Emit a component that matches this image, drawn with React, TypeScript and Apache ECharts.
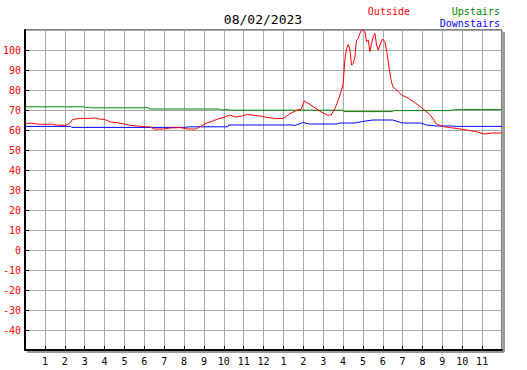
import React, { useEffect, useRef } from "react";
import * as echarts from "echarts";

const titleText = "08/02/2023";
const seriesNames = ["Outside", "Upstairs", "Downstairs"];
const seriesColors = ["#ff0000", "#008800", "#0000ff"];

const outsideHours = [0, 0.3, 0.6, 1.0, 1.3, 1.6, 2.0, 2.2, 2.4, 2.8, 3.2, 3.5, 3.7, 4.0, 4.3, 4.6, 5.0, 5.3, 5.7, 6.0, 6.3, 6.5, 7.0, 7.3, 7.8, 8.2, 8.6, 8.8, 9.1, 9.4, 9.7, 10.0, 10.3, 10.6, 10.9, 11.2, 11.5, 11.8, 12.2, 12.6, 13.0, 13.3, 13.6, 13.9, 14.05, 14.3, 14.6, 14.9, 15.2, 15.4, 15.6, 15.85, 16.0, 16.1, 16.18, 16.27, 16.35, 16.43, 16.52, 16.6, 16.68, 16.77, 16.85, 16.94, 17.02, 17.1, 17.19, 17.27, 17.35, 17.44, 17.52, 17.6, 17.69, 17.77, 17.86, 17.98, 18.1, 18.2, 18.3, 18.4, 18.5, 18.7, 18.95, 19.3, 19.6, 20.0, 20.4, 20.7, 21.0, 21.3, 21.7, 22.2, 22.7, 23.1, 23.5, 24];
const outsideValues = [63, 63.5, 63, 62.8, 63, 62.5, 62.3, 63, 65.3, 65.8, 65.8, 66, 65.5, 65.3, 64, 63.7, 63, 62.3, 62, 61.7, 61.5, 60.5, 60.5, 61, 61.2, 60.5, 60.5, 61.7, 63.3, 64.3, 65.5, 66.3, 67.5, 66.5, 67, 67.8, 67.3, 67, 66.3, 65.7, 65.8, 68, 69.5, 70.5, 74.5, 73, 71, 69, 67.5, 67.5, 70.8, 77.5, 82.5, 95.8, 100.8, 102.8, 100, 92.5, 93.3, 96.7, 105, 105.8, 108.3, 110, 110, 109.2, 104.2, 105, 99.2, 103.3, 106.7, 108.3, 102.5, 100, 102.5, 105.5, 104.2, 99.2, 92.5, 85.8, 81.7, 80, 77.5, 75.8, 73.8, 70.8, 67.5, 63, 61.8, 61.3, 60.8, 60, 59.2, 58, 58.5, 58.5];

const upstairsHours = [0, 3.0, 3.05, 3.2, 3.3, 6.2, 6.25, 9.8, 9.85, 10.2, 10.3, 16.0, 16.05, 18.5, 18.55, 21.4, 21.5, 21.6, 21.7, 24];
const upstairsValues = [71.6, 71.6, 71.1, 71.4, 71.1, 71.1, 70.5, 70.5, 70, 70.2, 69.9, 69.9, 69.2, 69.2, 69.7, 69.7, 70.2, 69.9, 70.2, 70.2];

const downstairsHours = [0, 2.3, 2.35, 8.0, 8.3, 10.2, 10.25, 13.4, 13.6, 14.0, 14.3, 15.7, 15.85, 16.6, 17.0, 17.5, 18.5, 19.0, 19.9, 20.2, 20.7, 21.5, 21.7, 24];
const downstairsValues = [61.8, 61.8, 61.3, 61.3, 61.6, 61.6, 62.5, 62.5, 62.3, 63.8, 63, 63, 63.5, 63.5, 64.3, 65, 65, 63.5, 63.5, 62.5, 62, 62, 61.8, 61.8];

const yMin = -50;
const yMax = 110;
const yStep = 10;
const xMin = 0;
const xMax = 24;

const pair = (xs: number[], ys: number[]) => xs.map((x, i) => [x, ys[i]]);

export default function App() {
  const ref = useRef<HTMLDivElement>(null);
  useEffect(() => {
    if (!ref.current) return;
    const chart = echarts.init(ref.current, null, { renderer: "svg" });
    const font = "DejaVu Sans Mono";
    const L = 25, T = 30, R = 502, B = 350;
    chart.setOption({
      animation: false,
      backgroundColor: "#ffffff",
      grid: {
        left: L, top: T, right: 527 - R, bottom: 370 - B,
        show: true, backgroundColor: "#ffffff", borderColor: "#000", borderWidth: 1,
      },
      graphic: [
        { type: "rect", shape: { x: R + 1, y: T + 2, width: 2, height: B - T }, style: { fill: "#999" }, silent: true },
        { type: "rect", shape: { x: L + 2, y: B + 1, width: R - L, height: 2 }, style: { fill: "#999" }, silent: true },
        { type: "text", x: 263, y: 19, style: { text: titleText, fill: "#000", font: `13px "${font}"`, textAlign: "center", textVerticalAlign: "middle" } },
        { type: "text", x: 410, y: 11, style: { text: seriesNames[0], fill: seriesColors[0], font: `10px "${font}"`, textAlign: "right", textVerticalAlign: "middle" } },
        { type: "text", x: 500, y: 11, style: { text: seriesNames[1], fill: seriesColors[1], font: `10px "${font}"`, textAlign: "right", textVerticalAlign: "middle" } },
        { type: "text", x: 500, y: 23, style: { text: seriesNames[2], fill: seriesColors[2], font: `10px "${font}"`, textAlign: "right", textVerticalAlign: "middle" } },
      ],
      xAxis: {
        type: "value", min: xMin, max: xMax, interval: 1,
        axisLine: { show: true, onZero: false, lineStyle: { color: "#000", width: 2 } },
        axisTick: { show: true, inside: true, length: 4, lineStyle: { color: "#000", width: 1 } },
        axisLabel: {
          color: "#000", fontFamily: font, fontSize: 10, margin: 6,
          showMinLabel: false, showMaxLabel: false,
          formatter: (v: number) => (v <= 0 || v >= 24 ? "" : String(v % 12 === 0 ? 12 : v % 12)),
        },
        splitLine: { show: true, lineStyle: { color: "#a8a8a8", width: 1 } },
      },
      yAxis: {
        type: "value", min: yMin, max: yMax, interval: yStep,
        axisLine: { show: true, onZero: false, lineStyle: { color: "#000", width: 2 } },
        axisTick: { show: true, inside: true, length: 4, lineStyle: { color: "#000", width: 1 } },
        axisLabel: {
          color: "#ff0000", fontFamily: font, fontSize: 10, margin: 4,
          showMinLabel: false, showMaxLabel: false,
          formatter: (v: number) => (v <= yMin || v >= yMax ? "" : String(v)),
        },
        splitLine: { show: true, lineStyle: { color: "#a8a8a8", width: 1 } },
      },
      series: [
        { name: seriesNames[1], type: "line", data: pair(upstairsHours, upstairsValues), showSymbol: false, lineStyle: { color: seriesColors[1], width: 1 }, clip: true },
        { name: seriesNames[2], type: "line", data: pair(downstairsHours, downstairsValues), showSymbol: false, lineStyle: { color: seriesColors[2], width: 1 }, clip: true },
        { name: seriesNames[0], type: "line", data: pair(outsideHours, outsideValues), showSymbol: false, lineStyle: { color: seriesColors[0], width: 1 }, clip: true },
      ],
    });
    return () => chart.dispose();
  }, []);
  return <div ref={ref} style={{ position: "absolute", left: 0, top: 0, width: 527, height: 370 }} />;
}
